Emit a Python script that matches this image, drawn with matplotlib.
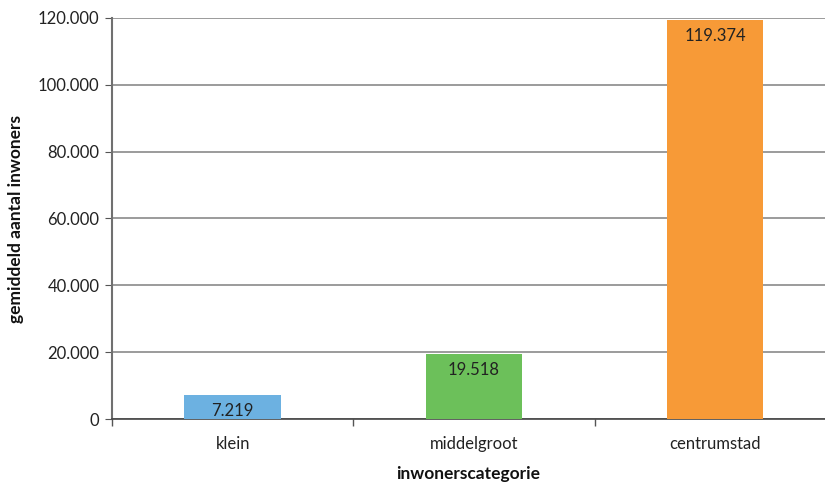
import matplotlib
matplotlib.use("Agg")
import matplotlib.pyplot as plt
from matplotlib.ticker import FuncFormatter

categories = ["klein", "middelgroot", "centrumstad"]
values = [7219, 19518, 119374]
colors = ["#6cb1e1", "#6cc05a", "#f79a37"]

def dutch(v):
    return f"{int(round(v)):,}".replace(",", ".")

plt.rcParams['font.family'] = ['Lato', 'DejaVu Sans']

fig = plt.figure(figsize=(8.25, 4.86), dpi=100)
ax = fig.add_axes([112/825, 1 - 419/486, 1 - 112/825, (419 - 18)/486])

x = list(range(len(categories)))
bars = ax.bar(x, values, width=0.4, color=colors, zorder=3)
for b, v in zip(bars, values):
    ax.annotate(dutch(v), (b.get_x() + b.get_width()/2, b.get_height()),
                xytext=(0, -6), textcoords="offset points", ha="center", va="top",
                fontsize=12, color="#222222", zorder=4)

ax.set_ylim(0, 120000)
ax.set_yticks(range(0, 120001, 20000))
ax.yaxis.set_major_formatter(FuncFormatter(lambda v, p: dutch(v)))
ax.set_xticks([-0.5, 0.5, 1.5, 2.5])
ax.set_xticklabels([])
ax.set_xticks(x, minor=True)
ax.set_xticklabels(categories, minor=True)
ax.set_xlim(-0.5, 2.455)
ax.tick_params(axis="x", which="minor", length=0, pad=12, labelsize=12, labelcolor="#222222")
ax.tick_params(axis="x", which="major", length=5, color="#555555", width=1)
ax.tick_params(axis="y", length=5, color="#555555", labelsize=12, labelcolor="#222222", pad=4)

ax.grid(axis="y", color="#8a8a8a", linewidth=1.2, zorder=0)
for s in ["top", "right"]:
    ax.spines[s].set_visible(False)
ax.spines["left"].set_color("#707070")
ax.spines["left"].set_linewidth(1.5)
ax.spines["bottom"].set_color("#444444")
ax.spines["bottom"].set_linewidth(1.2)

ax.set_xlabel("inwonerscategorie", fontsize=12.5, fontweight="bold", labelpad=10, color="#111111")
ax.set_ylabel("gemiddeld aantal inwoners", fontsize=12.5, fontweight="bold", labelpad=10, color="#111111")

fig.savefig("out.png", dpi=100)
